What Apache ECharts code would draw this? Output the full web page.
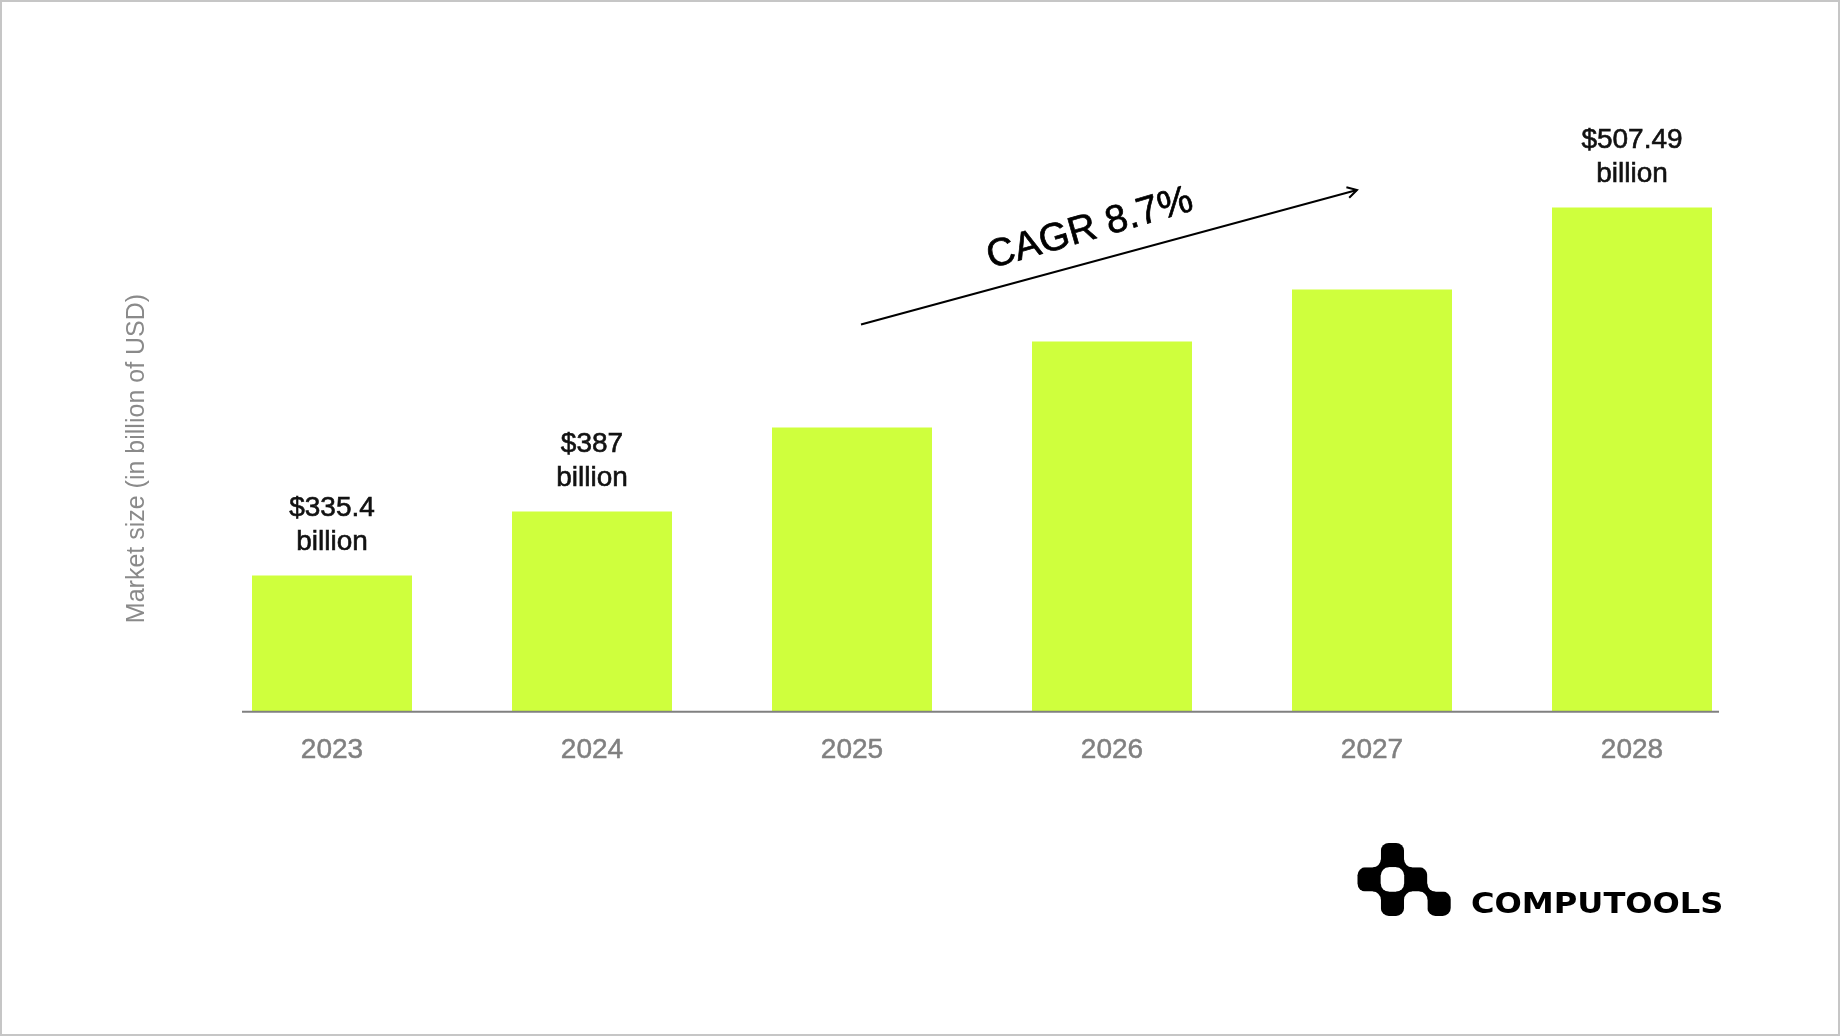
<!DOCTYPE html>
<html>
<head>
<meta charset="utf-8">
<script src="https://cdn.jsdelivr.net/npm/echarts@6/dist/echarts.min.js"></script>
<style>
  html, body { margin: 0; padding: 0; background: #ffffff; }
  #chart { width: 1840px; height: 1036px; }
</style>
</head>
<body>
<div id="chart"></div>
<script>
// ---- Data ----
const years = ['2023', '2024', '2025', '2026', '2027', '2028'];
const marketSize = [335.4, 365.3, 404.6, 444.8, 469.1, 507.49];
const valueLabels = ['$335.4\nbillion', '$387\nbillion', '', '', '', '$507.49\nbillion'];
const yAxisTitle = 'Market size (in billion of USD)';
const cagrText = 'CAGR 8.7%';
const brandName = 'COMPUTOOLS';

const FONT = "'Liberation Sans', Arial, Helvetica, sans-serif";
const chart = echarts.init(document.getElementById('chart'), null, { renderer: 'canvas' });

// logo cells (checkerboard) – decoration
const logoCells = [[1, 0], [0, 1], [2, 1], [1, 2], [3, 2]];
const logoWhite = [[0, 0], [2, 0], [3, 0], [1, 1], [3, 1], [0, 2], [2, 2]];
const logoJoins = [[1, 1], [1, 2], [2, 1], [2, 2], [3, 2]];
const LX = 1357.5, LY = 843, CW = 23.3, CH = 24.3, R = 8;
const logoGraphics = [];
logoCells.forEach(c => logoGraphics.push({
  type: 'rect', shape: { x: LX + c[0] * CW, y: LY + c[1] * CH, width: CW, height: CH, r: R },
  style: { fill: '#000' }
}));
logoJoins.forEach(p => logoGraphics.push({
  type: 'rect', shape: { x: LX + p[0] * CW - R, y: LY + p[1] * CH - R, width: 2 * R, height: 2 * R },
  style: { fill: '#000' }
}));
logoWhite.forEach(c => logoGraphics.push({
  type: 'rect', shape: { x: LX + c[0] * CW, y: LY + c[1] * CH, width: CW, height: CH, r: R },
  style: { fill: '#fff' }
}));

const option = {
  backgroundColor: '#ffffff',
  animation: false,
  grid: { left: 202, right: 78, top: 206, bottom: 325, containLabel: false },
  xAxis: {
    type: 'category',
    data: years,
    axisLine: { show: false },
    axisTick: { show: false },
    axisLabel: {
      color: '#808080', fontSize: 28, fontFamily: FONT, margin: 25, lineHeight: 28,
      textBorderColor: '#808080', textBorderWidth: 0.5
    }
  },
  yAxis: {
    type: 'value',
    min: 272,
    max: 508.2,
    axisLine: { show: false },
    axisTick: { show: false },
    axisLabel: { show: false },
    splitLine: { show: false },
    name: yAxisTitle,
    nameLocation: 'middle',
    nameRotate: 90,
    nameGap: 52,
    nameTextStyle: { color: '#8a8a8a', fontSize: 25, fontFamily: FONT }
  },
  series: [{
    type: 'bar',
    data: marketSize,
    barWidth: 160,
    itemStyle: { color: '#cfff3d' },
    label: {
      show: true,
      position: 'top',
      distance: 16,
      formatter: p => valueLabels[p.dataIndex],
      color: '#111111',
      fontSize: 28,
      lineHeight: 34,
      fontFamily: FONT,
      align: 'center',
      textBorderColor: '#111111',
      textBorderWidth: 0.6
    }
  }],
  graphic: [
    { type: 'rect', shape: { x: 1, y: 1, width: 1838, height: 1034 }, style: { fill: 'none', stroke: '#c6c6c6', lineWidth: 2 }, silent: true },
    { type: 'line', shape: { x1: 242, y1: 711.7, x2: 1719, y2: 711.7 }, style: { stroke: '#808080', lineWidth: 2 }, z: 10 },
    { type: 'line', shape: { x1: 861, y1: 324.5, x2: 1357, y2: 190 }, style: { stroke: '#000', lineWidth: 2 } },
    { type: 'polyline', shape: { points: [[1346.4, 187.2], [1357, 190], [1349.2, 197.8]] }, style: { stroke: '#000', lineWidth: 2, fill: 'none' } },
    {
      type: 'text', x: 1090, y: 229, rotation: 16 * Math.PI / 180,
      style: { text: cagrText, fill: '#000', font: '39px ' + FONT, align: 'center', verticalAlign: 'middle', stroke: '#000', lineWidth: 0.7 }
    },
    {
      type: 'text', x: 1471, y: 905, scaleX: 1.107,
      style: { text: brandName, fill: '#000', font: "bold 29px 'DejaVu Sans', sans-serif", align: 'left', verticalAlign: 'middle' }
    }
  ].concat(logoGraphics)
};
chart.setOption(option);
</script>
</body>
</html>
